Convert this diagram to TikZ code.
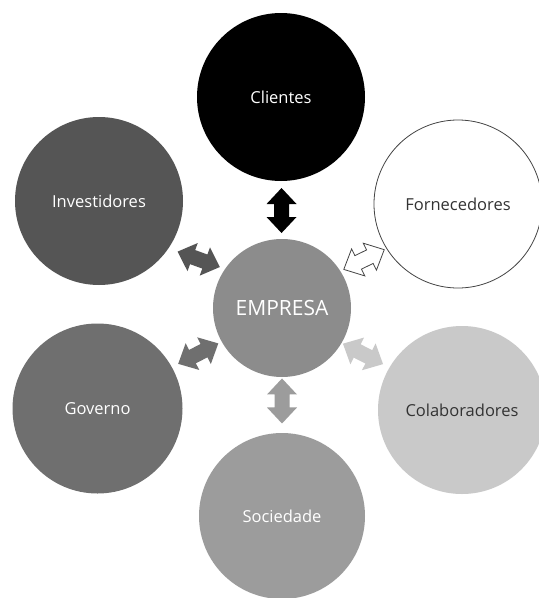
\documentclass[tikz,border=0pt]{standalone}
\usepackage{fontspec}
\setmainfont{Open Sans}
\usetikzlibrary{calc}
\definecolor{cInv}{HTML}{555555}
\definecolor{cGov}{HTML}{6F6F6F}
\definecolor{cEmp}{HTML}{8C8C8C}
\definecolor{cSoc}{HTML}{9C9C9C}
\definecolor{cCol}{HTML}{C9C9C9}
\definecolor{cTxt}{HTML}{333333}
\definecolor{cLine}{HTML}{444444}
\tikzset{
  circ/.style={circle, inner sep=0pt, minimum size=168pt, draw=none, text=white,
    font=\fontsize{16.5}{20}\selectfont},
  darrow/.pic={
    \path[pic actions] (-22.5,0) -- (-6.5,15) -- (-6.5,7.5) -- (6.5,7.5) -- (6.5,15)
      -- (22.5,0) -- (6.5,-15) -- (6.5,-7.5) -- (-6.5,-7.5) -- (-6.5,-15) -- cycle;
  }
}
\begin{document}
\begin{tikzpicture}[x=1pt,y=-1pt]
\useasboundingbox (0,0) rectangle (539,598);
\fill[white] (0,0) rectangle (539,598);
% circles
\node[circ, fill=black] (cli) at (281,97) {Clientes};
\node[circ, fill=cInv] (inv) at (99,201) {Investidores};
\node[circ, fill=white, draw=cLine, line width=0.8pt, text=cTxt] (for) at (458,204) {Fornecedores};
\node[circ, fill=cGov, minimum size=170pt] (gov) at (97.5,408.5) {Governo};
\node[circ, fill=cCol, text=cTxt] (col) at (462,410) {Colaboradores};
\node[circ, fill=cSoc, minimum size=166pt] (soc) at (282,516) {Sociedade};
\node[circ, fill=cEmp, minimum size=138pt, font=\fontsize{21}{25}\selectfont] (emp) at (282,308) {EMPRESA};
% double arrows
\pic[rotate=90, fill=black] at ($(emp)!0.462!(cli)$) {darrow};
\pic[rotate=-20, fill=cInv] at ($(emp)!0.455!(inv)$) {darrow};
\pic[rotate=26, fill=white, draw=cLine, line width=0.8pt] at ($(emp)!0.466!(for)$) {darrow};
\pic[rotate=27, fill=cGov] at ($(emp)!0.454!(gov)$) {darrow};
\pic[rotate=-27, fill=cCol] at ($(emp)!0.45!(col)$) {darrow};
\pic[rotate=90, fill=cSoc] at ($(emp)!0.447!(soc)$) {darrow};
\end{tikzpicture}
\end{document}
